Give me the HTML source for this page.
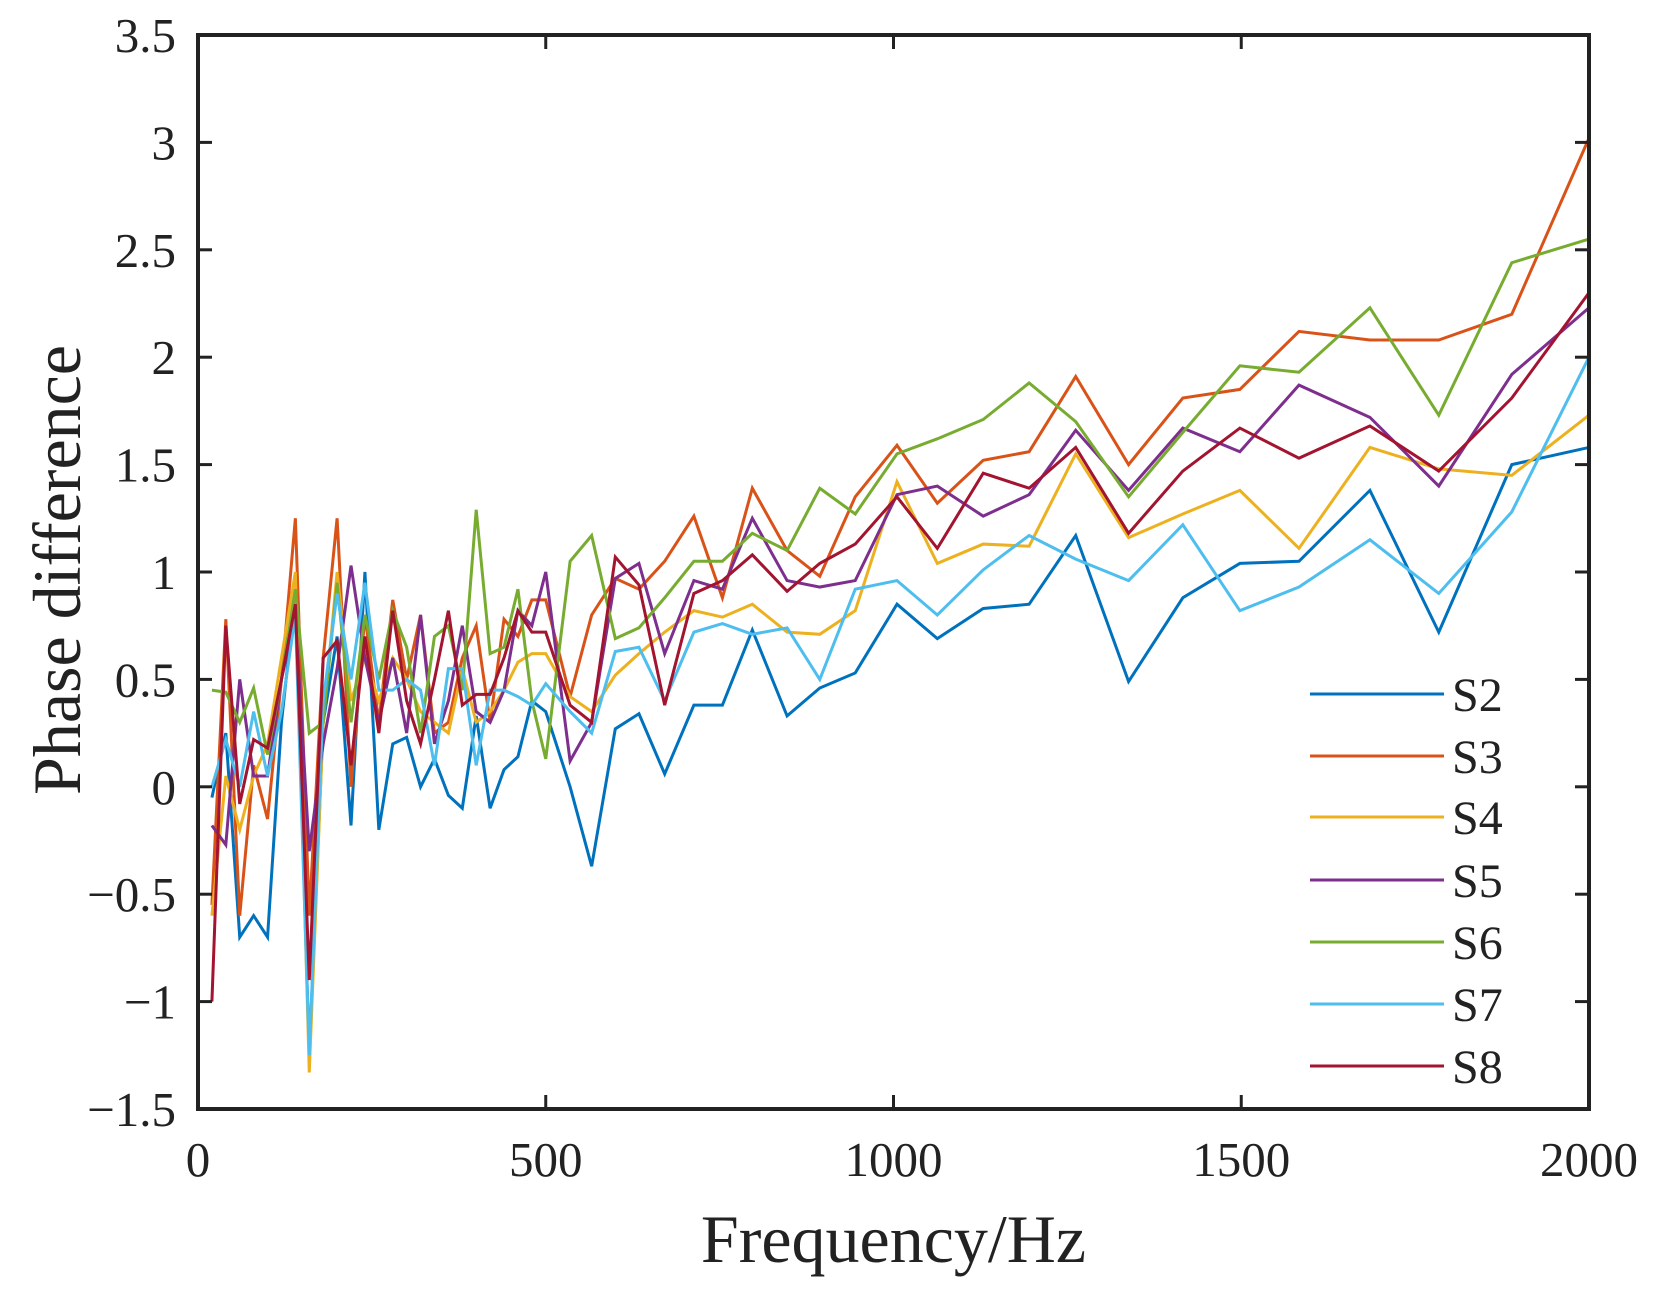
<!DOCTYPE html>
<html><head><meta charset="utf-8"><style>
body{margin:0;background:#fff}
svg text{font-family:"Liberation Serif",serif;fill:#222}
</style></head><body>
<svg id="chart" width="1660" height="1286" viewBox="0 0 1660 1286" xmlns="http://www.w3.org/2000/svg">
<g id="plot"></g>
</svg>
<script>
const freqs=[20,40,60,80,100,120,140,160,180,200,220,240,260,280,300,320,340,360,380,400,420,440,460,480,500,535,566,600,634,671,713,754,797,847,894,945,1005,1063,1129,1195,1262,1338,1416,1498,1583,1685,1784,1889,2000];
const s2=[-0.05,0.25,-0.7,-0.6,-0.7,0.3,0.9,-1.25,0.3,0.7,-0.18,1.0,-0.2,0.2,0.23,0.0,0.13,-0.04,-0.1,0.33,-0.1,0.08,0.14,0.4,0.35,0.0,-0.37,0.27,0.34,0.06,0.38,0.38,0.73,0.33,0.46,0.53,0.85,0.69,0.83,0.85,1.17,0.49,0.88,1.04,1.05,1.38,0.72,1.5,1.58];
const s3=[-0.55,0.78,-0.6,0.1,-0.15,0.5,1.25,-0.6,0.6,1.25,0.0,0.8,0.3,0.87,0.5,0.8,0.25,0.3,0.6,0.75,0.3,0.78,0.7,0.87,0.87,0.42,0.8,0.97,0.92,1.05,1.26,0.88,1.39,1.1,0.98,1.35,1.59,1.32,1.52,1.56,1.91,1.5,1.81,1.85,2.12,2.08,2.08,2.2,3.02];
const s4=[-0.6,0.05,-0.2,0.05,0.2,0.6,1.0,-1.33,0.3,1.0,0.4,0.6,0.4,0.6,0.5,0.35,0.3,0.25,0.55,0.3,0.35,0.45,0.58,0.62,0.62,0.42,0.35,0.52,0.62,0.72,0.82,0.79,0.85,0.72,0.71,0.82,1.42,1.04,1.13,1.12,1.55,1.16,1.27,1.38,1.11,1.58,1.48,1.45,1.73];
const s5=[-0.18,-0.27,0.5,0.05,0.05,0.5,0.8,-0.3,0.2,0.55,1.03,0.6,0.3,0.6,0.25,0.8,0.2,0.4,0.75,0.35,0.3,0.45,0.82,0.75,1.0,0.12,0.3,0.97,1.04,0.62,0.96,0.92,1.25,0.96,0.93,0.96,1.36,1.4,1.26,1.36,1.66,1.38,1.67,1.56,1.87,1.72,1.4,1.92,2.23];
const s6=[0.45,0.44,0.3,0.46,0.15,0.5,0.92,0.25,0.3,0.95,0.3,0.8,0.5,0.82,0.65,0.25,0.7,0.75,0.45,1.29,0.62,0.65,0.92,0.4,0.13,1.05,1.17,0.69,0.74,0.88,1.05,1.05,1.18,1.1,1.39,1.27,1.55,1.62,1.71,1.88,1.7,1.35,1.65,1.96,1.93,2.23,1.73,2.44,2.55];
const s7=[0.0,0.22,0.0,0.35,0.05,0.35,0.8,-1.25,0.4,0.9,0.5,0.95,0.45,0.45,0.5,0.45,0.1,0.55,0.55,0.1,0.45,0.45,0.42,0.38,0.48,0.35,0.25,0.63,0.65,0.4,0.72,0.76,0.71,0.74,0.5,0.92,0.96,0.8,1.01,1.17,1.06,0.96,1.22,0.82,0.93,1.15,0.9,1.28,2.0];
const s8=[-1.0,0.75,-0.08,0.22,0.18,0.5,0.85,-0.9,0.6,0.68,0.1,0.7,0.25,0.82,0.4,0.2,0.5,0.82,0.38,0.43,0.43,0.6,0.82,0.72,0.72,0.38,0.3,1.07,0.94,0.38,0.9,0.96,1.08,0.91,1.04,1.13,1.35,1.11,1.46,1.39,1.58,1.18,1.47,1.67,1.53,1.68,1.47,1.81,2.3];
const seriesNames=["S2","S3","S4","S5","S6","S7","S8"];
const seriesColors=["#0072BD","#D95319","#EDB120","#7E2F8E","#77AC30","#4DBEEE","#A2142F"];
const xTicks=[0,500,1000,1500,2000];
const yTicks=[-1.5,-1,-0.5,0,0.5,1,1.5,2,2.5,3,3.5];

const L=198,R=1589,T=35,B=1109;
const xs=f=>L+(f-0)/2000*(R-L);
const ys=v=>B-(v+1.5)/5*(B-T);
const NS="http://www.w3.org/2000/svg";
const g=document.getElementById('plot');
function mk(tag,attrs){const e=document.createElementNS(NS,tag);for(const k in attrs)e.setAttribute(k,attrs[k]);g.appendChild(e);return e;}

const all=[s2,s3,s4,s5,s6,s7,s8];
all.forEach((s,i)=>{
  const p=mk('polyline',{points:s.map((v,j)=>xs(freqs[j])+','+ys(v)).join(' '),fill:'none',stroke:seriesColors[i],'stroke-width':3,'stroke-linejoin':'miter'});
  
  
});

const box=mk('rect',{x:L,y:T,width:R-L,height:B-T,fill:'none',stroke:'#222','stroke-width':4});



xTicks.forEach(t=>{
  const x=xs(t);
  mk('line',{x1:x,y1:B,x2:x,y2:B-14,stroke:'#222','stroke-width':3});
  mk('line',{x1:x,y1:T,x2:x,y2:T+14,stroke:'#222','stroke-width':3});
  const tx=mk('text',{x:x,y:1176,'font-size':49,'text-anchor':'middle'});
  tx.textContent=t;
  
  
});
yTicks.forEach(t=>{
  const y=ys(t);
  mk('line',{x1:L,y1:y,x2:L+14,y2:y,stroke:'#222','stroke-width':3});
  mk('line',{x1:R,y1:y,x2:R-14,y2:y,stroke:'#222','stroke-width':3});
  const tx=mk('text',{x:176,y:y+17,'font-size':49,'text-anchor':'end'});
  tx.textContent=(t<0?'\u2212'+(-t):String(t));
  
  
});

const xl=mk('text',{x:(L+R)/2,y:1262,'font-size':68,'text-anchor':'middle'});
xl.textContent='Frequency/Hz';


const yl=mk('text',{x:0,y:0,'font-size':68,'text-anchor':'middle',transform:'translate(80,570) rotate(-90)'});
yl.textContent='Phase difference';



const legY=[694,756,817,880,942,1004,1066];
seriesNames.forEach((n,i)=>{
  const ln=mk('line',{x1:1310,y1:legY[i],x2:1444,y2:legY[i],stroke:seriesColors[i],'stroke-width':3});
  
  
  const tx=mk('text',{x:1452,y:legY[i]+17,'font-size':48});
  tx.textContent=n;
  
  
});
</script>
</body></html>
